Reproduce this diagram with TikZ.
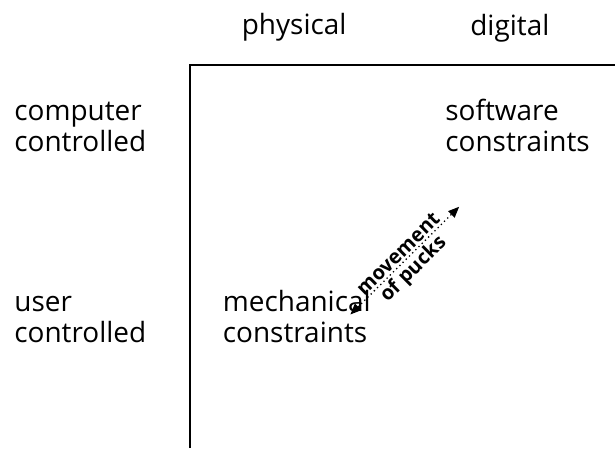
\documentclass[tikz,border=0pt]{standalone}
\usepackage{fontspec}
\setmainfont{Open Sans}
\usepackage{tikz}
\usetikzlibrary{arrows.meta}

\begin{document}
\begin{tikzpicture}[x=1pt,y=-1pt,
  heading/.style={font=\fontsize{28}{31.5}\selectfont, inner sep=0pt, anchor=base west, align=left},
  pucklabel/.style={font=\bfseries\fontsize{20}{22}\selectfont, sloped, inner sep=2pt}]
\draw[opacity=0] (0,0) rectangle (616,449);

% axes of the grid
\draw[line width=2.4pt] (190,449) -- (190,65) -- (616,65);

% column and row headings
\node[heading] (physical) at (242,34) {physical};
\node[heading] (digital) at (471,35) {digital};
\node[heading] (computer) at (14,152) {computer\\controlled};
\node[heading] (user) at (14,343) {user\\controlled};

% the two kinds of constraint
\node[heading] (software) at (446,152) {software\\constraints};
\node[heading] (mechanical) at (223,343) {mechanical\\constraints};

\coordinate (pucks-a) at (351,315);
\coordinate (pucks-b) at (460,207);
\draw[line width=1.3pt, dash pattern=on 1.3pt off 3.2pt, {Triangle[width=9pt,length=11pt]}-{Triangle[width=9pt,length=11pt]}]
  (pucks-a) -- node[pucklabel, above] (movement) {movement}
               node[pucklabel, below] (ofpucks) {of pucks} (pucks-b);

\end{tikzpicture}
\end{document}
